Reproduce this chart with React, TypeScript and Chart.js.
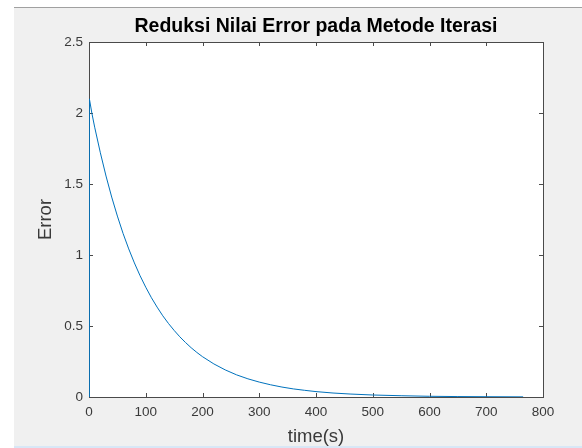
import { useEffect, useRef } from 'react';
import { Chart, registerables } from 'chart.js';

Chart.register(...registerables);

const titleText = 'Reduksi Nilai Error pada Metode Iterasi';
const xLabel = 'time(s)';
const yLabel = 'Error';

const xTickLabels = ['0', '100', '200', '300', '400', '500', '600', '700', '800'];
const yTickLabels = ['0', '0.5', '1', '1.5', '2', '2.5'];

// time (s)
const timeS = [
  0, 0, 1, 1, 5, 10, 20, 30, 40, 50, 60, 70, 80, 90, 100, 110, 120, 130, 140, 150,
  160, 170, 180, 190, 200, 220, 240, 260, 280, 300, 320, 340, 360, 380, 400, 430,
  460, 500, 550, 600, 650, 700, 765,
];
// error values
const errorVals = [
  0, 2.05, 1.93, 2.1, 2.0, 1.9, 1.72, 1.556, 1.408, 1.274, 1.152, 1.043, 0.944, 0.854,
  0.773, 0.699, 0.633, 0.572, 0.518, 0.469, 0.424, 0.384, 0.347, 0.314, 0.284, 0.233,
  0.191, 0.156, 0.128, 0.105, 0.086, 0.07, 0.057, 0.047, 0.038, 0.028, 0.021, 0.014,
  0.009, 0.005, 0.003, 0.002, 0.001,
];

const FONT = 'Liberation Sans, Arial, Helvetica, sans-serif';
const AXIS_COLOR = '#4a4a4a';
const TEXT_COLOR = '#3a3a3a';

const boxPlugin = {
  id: 'matlabBox',
  beforeDatasetsDraw(chart: any) {
    const { ctx, chartArea: a, scales } = chart;
    const tl = 4;
    ctx.save();
    ctx.fillStyle = '#ffffff';
    ctx.fillRect(a.left, a.top, a.right - a.left, a.bottom - a.top);
    ctx.strokeStyle = AXIS_COLOR;
    ctx.lineWidth = 1;
    ctx.beginPath();
    scales.x.ticks.forEach((t: any) => {
      const px = Math.round(scales.x.getPixelForValue(t.value)) + 0.5;
      ctx.moveTo(px, a.bottom);
      ctx.lineTo(px, a.bottom - tl);
      ctx.moveTo(px, a.top);
      ctx.lineTo(px, a.top + tl);
    });
    scales.y.ticks.forEach((t: any) => {
      const py = Math.round(scales.y.getPixelForValue(t.value)) + 0.5;
      ctx.moveTo(a.left, py);
      ctx.lineTo(a.left + tl, py);
      ctx.moveTo(a.right, py);
      ctx.lineTo(a.right - tl, py);
    });
    ctx.stroke();
    ctx.strokeRect(
      Math.round(a.left) + 0.5,
      Math.round(a.top) + 0.5,
      Math.round(a.right - a.left),
      Math.round(a.bottom - a.top)
    );
    ctx.restore();
  },
};

export default function App() {
  const ref = useRef<HTMLCanvasElement>(null);

  useEffect(() => {
    if (!ref.current) return;
    const points = timeS.map((t, i) => ({ x: t, y: errorVals[i] }));
    const chart = new Chart(ref.current, {
      type: 'line',
      data: {
        datasets: [
          {
            data: points,
            borderColor: '#0072BD',
            borderWidth: 1,
            pointRadius: 0,
            tension: 0,
            fill: false,
          },
        ],
      },
      options: {
        animation: false,
        responsive: false,
        maintainAspectRatio: false,
        events: [],
        layout: { padding: { left: 0, right: 39, top: 0, bottom: 0 } },
        plugins: {
          legend: { display: false },
          tooltip: { enabled: false },
          title: {
            display: true,
            text: titleText,
            fullSize: false,
            color: '#000000',
            font: { family: FONT, size: 19.5, weight: 'bold', lineHeight: 1.2 },
            padding: { top: 15, bottom: 3.6 },
          },
        },
        scales: {
          x: {
            type: 'linear',
            min: 0,
            max: 800,
            grid: { display: false, drawTicks: false },
            border: { display: false },
            ticks: {
              stepSize: 100,
              padding: 7,
              color: TEXT_COLOR,
              font: { family: FONT, size: 13.5 },
              maxRotation: 0,
              callback: (_v: any, i: number) => xTickLabels[i],
            },
            title: {
              display: true,
              text: xLabel,
              color: TEXT_COLOR,
              font: { family: FONT, size: 18.5, lineHeight: 1 },
              padding: { top: 0, bottom: 1.75 },
            },
            afterFit: (s: any) => {
              s.height = 51;
            },
          },
          y: {
            type: 'linear',
            min: 0,
            max: 2.5,
            grid: { display: false, drawTicks: false },
            border: { display: false },
            ticks: {
              stepSize: 0.5,
              padding: 6,
              color: TEXT_COLOR,
              font: { family: FONT, size: 13.5 },
              callback: (_v: any, i: number) => yTickLabels[i],
            },
            title: {
              display: true,
              text: yLabel,
              color: TEXT_COLOR,
              font: { family: FONT, size: 18.5, lineHeight: 1.2 },
              padding: { top: 35, bottom: 0 },
            },
            afterFit: (s: any) => {
              s.width = 89;
            },
          },
        },
      },
      plugins: [boxPlugin],
    });
    return () => chart.destroy();
  }, []);

  return (
    <div
      style={{
        position: 'fixed',
        left: 0,
        top: 0,
        width: 582,
        height: 448,
        background: '#ffffff',
        overflow: 'hidden',
      }}
    >
      <div
        style={{
          position: 'absolute',
          left: 14,
          top: 7,
          right: 0,
          bottom: 0,
          background: '#f0f0f0',
          borderTop: '1px solid #a0a0a0',
          borderBottom: '2px solid #d8e7f6',
          boxSizing: 'border-box',
        }}
      />
      <canvas
        ref={ref}
        width={582}
        height={448}
        style={{ position: 'absolute', left: 0, top: 0, width: 582, height: 448 }}
      />
    </div>
  );
}
